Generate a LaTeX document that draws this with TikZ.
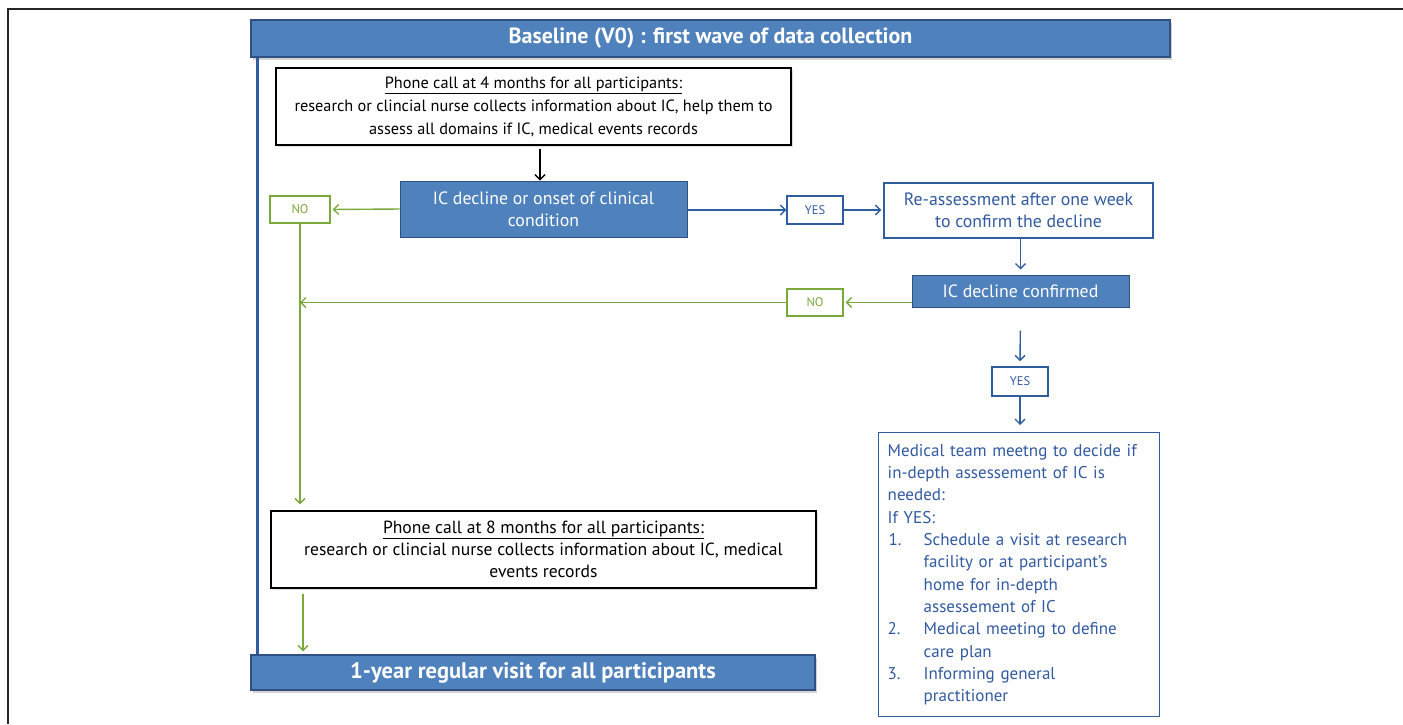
\documentclass[tikz,border=0pt]{standalone}
\usepackage{fontspec}
\setmainfont{PT Sans}
\usetikzlibrary{arrows.meta,shadows,calc}
\definecolor{bfill}{RGB}{79,129,189}
\definecolor{bdraw}{RGB}{47,80,130}
\definecolor{bline}{RGB}{46,94,160}
\definecolor{btext}{RGB}{50,90,160}
\definecolor{gline}{RGB}{122,168,58}
\begin{document}
\begin{tikzpicture}[x=1pt,y=-1pt,
  bar/.style={draw=bdraw,line width=1.2pt,fill=bfill,text=white,font=\fontsize{22}{24}\selectfont\bfseries,
    drop shadow={opacity=0.35,shadow xshift=2pt,shadow yshift=-2.5pt},inner sep=0pt},
  blkbox/.style={draw=black,line width=1.4pt,fill=white,align=center,font=\fontsize{16.3}{23}\selectfont,inner sep=0pt,
    drop shadow={opacity=0.25,shadow xshift=1.5pt,shadow yshift=-1.5pt}},
  bluebox/.style={draw=bdraw,line width=1pt,fill=bfill,text=white,align=center,font=\fontsize{17.8}{22}\selectfont,inner sep=0pt},
  outbox/.style={draw=bline,line width=1.4pt,fill=white,text=btext,align=center,font=\fontsize{17.8}{22}\selectfont,inner sep=0pt},
  gtag/.style={draw=gline,line width=1.4pt,text=gline,font=\fontsize{12.5}{13}\selectfont,inner sep=0pt,minimum width=60pt,minimum height=27pt},
  btag/.style={draw=bline,line width=1.4pt,text=btext,font=\fontsize{12.5}{13}\selectfont,inner sep=0pt,minimum width=56pt,minimum height=28pt},
  garrow/.style={draw=gline,line width=1.4pt,-{Straight Barb[length=5pt,width=10pt]}},
  barrow/.style={draw=bline,line width=1.4pt,-{Straight Barb[length=5pt,width=10pt]}},
  karrow/.style={draw=black,line width=1.4pt,-{Straight Barb[length=5pt,width=10pt]}}
]
\useasboundingbox (0,0) rectangle (1403,724);
% outer frame
\draw[line width=1.2pt,black!85] (1403,9) -- (8,9) -- (8,724);

\node[bar,minimum width=919pt,minimum height=37pt] (header) at (710.5,38.5) {Baseline (V0) : first wave of data collection};
\node[bar,minimum width=564pt,minimum height=35pt,font=\fontsize{22.5}{24}\selectfont\bfseries] (final) at (533,672.5) {1-year regular visit for all participants};

\draw[draw=bline,line width=3pt] ($(header.south west)+(7,0)$) coordinate (vtop) -- (vtop |- final.north);

\node[blkbox,minimum width=515pt,minimum height=77pt] (call4) at (533.5,106.5)
  {\underline{Phone call at 4 months for all participants:}\\
   research or clincial nurse collects information about IC, help them to\\
   assess all domains if IC, medical events records};

\node[bluebox,minimum width=287pt,minimum height=56pt] (ic) at (543.5,209)
  {IC decline or onset of clinical\\condition};
\node[gtag] (no1) at (300,209.5) {NO};
\node[btag] (yes1) at (815,210) {YES};
\node[outbox,minimum width=269pt,minimum height=55pt] (reas) at (1018.5,210.5)
  {Re-assessment after one week\\to confirm the decline};
\node[bluebox,minimum width=217pt,minimum height=32pt] (conf) at (1020.5,291) {IC decline confirmed};
\node[gtag,minimum width=56pt] (no2) at (815,302.5) {NO};
\node[btag,minimum height=29pt] (yes2) at (1020,381.5) {YES};

\node[outbox,minimum width=281pt,minimum height=284pt,align=left,anchor=north west,text width=263pt,inner xsep=9pt,inner ysep=5pt,font=\fontsize{17}{22.3}\selectfont] (med) at (878,432)
  {Medical team meetng to decide if\\
   in-depth assessement of IC is\\
   needed:\\
   If YES:\\
   \makebox[36pt][l]{\hspace*{1pt}1.}Schedule a visit at research\\
   \hspace*{36pt}facility or at participant’s\\
   \hspace*{36pt}home for in-depth\\
   \hspace*{36pt}assessement of IC\\
   \makebox[36pt][l]{2.}Medical meeting to define\\
   \hspace*{36pt}care plan\\
   \makebox[36pt][l]{3.}Informing general\\
   \hspace*{36pt}practitioner};

\node[blkbox,minimum width=545pt,minimum height=77pt,font=\fontsize{17.6}{22}\selectfont] (call8) at (543.5,549.5)
  {\underline{Phone call at 8 months for all participants:}\\
   research or clincial nurse collects information about IC, medical\\
   events records};

% connectors
\draw[karrow,shorten <=3pt] (call4.south -| 540,0) -- (ic.north -| 540,0);
\draw[garrow,shorten >=2pt] (ic.west) -- (no1.east);
\draw[barrow] (ic.east |- yes1.west) -- (yes1.west);
\draw[barrow,shorten >=2pt] (yes1.east) -- (reas.west |- yes1.east);
\draw[barrow,shorten >=5pt] (reas.south -| conf.north) -- (conf.north);
\draw[garrow,shorten >=2pt] (conf.west |- no2.east) -- (no2.east);
\draw[garrow] (no2.west) -- (no2.west -| no1.south);
\draw[garrow,shorten >=6pt] (no1.south) -- (no1.south |- call8.north);
\draw[garrow,shorten <=5pt,shorten >=3pt] (call8.south -| 303,0) -- (final.north -| 303,0);
\draw[barrow,shorten <=23pt,shorten >=5pt] (conf.south) -- (yes2.north);
\draw[barrow,shorten >=7pt] (yes2.south) -- (med.north -| yes2.south);
\end{tikzpicture}
\end{document}
